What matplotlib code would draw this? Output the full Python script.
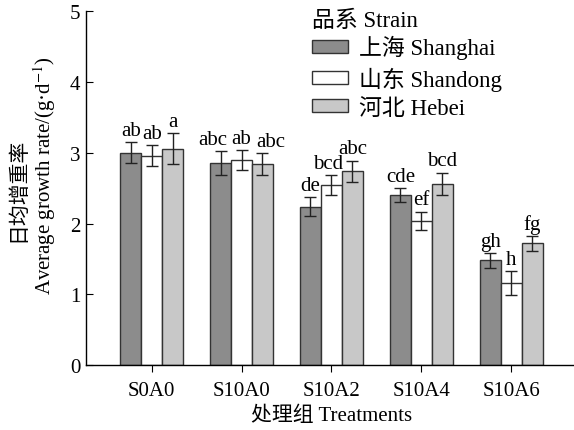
import matplotlib
matplotlib.use("Agg")
import matplotlib.pyplot as plt
import numpy as np

plt.rcParams['font.family'] = ['Liberation Serif', 'Noto Sans CJK SC']
plt.rcParams['mathtext.fontset'] = 'stix'

treatments = ["S0A0", "S10A0", "S10A2", "S10A4", "S10A6"]
strains = ["上海 Shanghai", "山东 Shandong", "河北 Hebei"]
shanghai = [3.00, 2.86, 2.24, 2.40, 1.48]
shandong = [2.96, 2.90, 2.54, 2.04, 1.16]
hebei = [3.06, 2.84, 2.74, 2.56, 1.72]
shanghai_err = [0.15, 0.17, 0.13, 0.10, 0.10]
shandong_err = [0.15, 0.14, 0.14, 0.13, 0.17]
hebei_err = [0.22, 0.16, 0.15, 0.16, 0.11]
shanghai_sig = ["ab", "abc", "de", "cde", "gh"]
shandong_sig = ["ab", "ab", "bcd", "ef", "h"]
hebei_sig = ["a", "abc", "abc", "bcd", "fg"]

colors = ["#8c8c8c", "#ffffff", "#c8c8c8"]
series = [shanghai, shandong, hebei]
errs = [shanghai_err, shandong_err, hebei_err]
sigs = [shanghai_sig, shandong_sig, hebei_sig]

# small horizontal nudges (in category units) so letters do not collide
nudge = {(0, 1): -0.09, (2, 1): 0.09, (1, 2): -0.04}

fig = plt.figure(figsize=(5.74, 4.31), dpi=100)
ax = fig.add_axes([0.150, 0.150, 0.850, 0.822])

x = np.arange(len(treatments))
w = 0.233
for i in range(3):
    pos = x + (i - 1) * w
    ax.bar(pos, series[i], width=w, color=colors[i], edgecolor="#333333",
           linewidth=1.0, label=strains[i], zorder=2)
    ax.errorbar(pos, series[i], yerr=errs[i], fmt="none", ecolor="#222222",
                elinewidth=1.0, capsize=4, capthick=1.0, zorder=3)
    for j, (p, v, e, s) in enumerate(zip(pos, series[i], errs[i], sigs[i])):
        ax.text(p + nudge.get((i, j), 0.0), v + e + 0.03, s,
                ha="center", va="bottom", fontsize=15)

ax.set_xlim(-0.73, 4.7)
ax.set_ylim(0, 5)
ax.set_xticks(x)
ax.set_xticklabels(treatments, fontsize=15)
ax.set_yticks([0, 1, 2, 3, 4, 5])
ax.tick_params(axis="y", direction="in", length=5, labelsize=15, pad=4)
ax.tick_params(axis="x", direction="out", length=5, labelsize=15, pad=6)
for s in ["top", "right"]:
    ax.spines[s].set_visible(False)
for s in ["left", "bottom"]:
    ax.spines[s].set_linewidth(1.0)

fig.text(0.033, 0.56, "日均增重率", rotation=90, ha="center", va="center", fontsize=15)
fig.text(0.077, 0.592, "Average growth rate/(g·d$^{-1}$)", rotation=90,
         ha="center", va="center", fontsize=15)
fig.text(0.578, 0.035, "处理组 Treatments", ha="center", va="center", fontsize=15)

fig.text(312 / 574, 1 - 21 / 431, "品系 Strain", ha="left", va="center", fontsize=16.5)
leg = ax.legend(loc="upper left",
                bbox_to_anchor=(312 / 574, 1 - 36 / 431),
                bbox_transform=fig.transFigure,
                frameon=False, fontsize=16.5,
                borderpad=0, borderaxespad=0,
                handlelength=1.55, handleheight=0.5, handletextpad=0.5,
                labelspacing=0.32)

fig.savefig("out.png", dpi=100)
